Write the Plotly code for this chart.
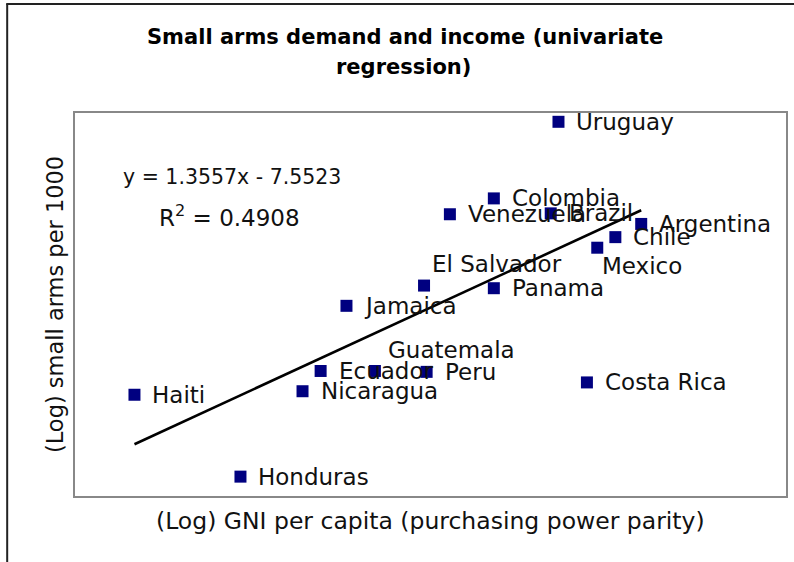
import plotly.graph_objects as go

countries = ["Haiti", "Honduras", "Nicaragua", "Ecuador", "Guatemala", "Peru",
             "Jamaica", "El Salvador", "Venezuela", "Colombia", "Panama",
             "Uruguay", "Brazil", "Costa Rica", "Mexico", "Chile", "Argentina"]
log_gni = [7.48, 7.89, 8.13, 8.20, 8.41, 8.61,
           8.30, 8.60, 8.70, 8.87, 8.87,
           9.12, 9.09, 9.23, 9.27, 9.34, 9.44]
log_arms = [3.15, 2.22, 3.19, 3.42, 3.42, 3.41,
            4.16, 4.39, 5.20, 5.38, 4.36,
            6.25, 5.21, 3.29, 4.82, 4.94, 5.09]
slope = 1.3557
intercept = -7.5523
r_squared = 0.4908

# label offsets (pixels) relative to marker
label_dx = {"Guatemala": 13, "El Salvador": 8, "Mexico": 5}
label_dy = {"Guatemala": 21, "El Salvador": 22, "Mexico": -18}

FONT = "DejaVu Sans"

# plot area in page pixels: x 75..788, y 113..496
L, R, T, B = 75, 788, 113, 496
PW, PH = R - L, B - T


def px(xp):
    return (xp - L) / PW


def py(yp):
    return (B - yp) / PH


fig = go.Figure()

xmin, xmax = min(log_gni), max(log_gni)
fig.add_trace(go.Scatter(
    x=[xmin, xmax], y=[slope * xmin + intercept, slope * xmax + intercept],
    mode="lines", line=dict(color="black", width=2.6), hoverinfo="skip",
    showlegend=False))

fig.add_trace(go.Scatter(
    x=log_gni, y=log_arms, mode="markers", text=countries,
    marker=dict(symbol="square", size=12, color="#000080",
                line=dict(width=0)),
    showlegend=False))

annotations = []
for c, xv, yv in zip(countries, log_gni, log_arms):
    annotations.append(dict(
        x=xv, y=yv, xref="x", yref="y", text=c, showarrow=False,
        xanchor="left", yanchor="middle",
        xshift=label_dx.get(c, 18) - 2, yshift=label_dy.get(c, 0),
        font=dict(family=FONT, size=23, color="#111111")))

annotations += [
    dict(x=px(232), y=py(177), xref="paper", yref="paper",
         text=f"y = {slope}x - {abs(intercept)}", showarrow=False,
         xanchor="center", yanchor="middle",
         font=dict(family=FONT, size=20.5, color="#111111")),
    dict(x=px(230), y=py(216), xref="paper", yref="paper",
         text=f"R<sup>2</sup> = {r_squared}", showarrow=False,
         xanchor="center", yanchor="middle",
         font=dict(family=FONT, size=23, color="#111111")),
    dict(x=px(406), y=py(37), xref="paper", yref="paper",
         text="Small arms demand and income (univariate", showarrow=False,
         xanchor="center", yanchor="middle",
         font=dict(family=FONT, size=21, color="black", weight="bold")),
    dict(x=px(404), y=py(67), xref="paper", yref="paper",
         text="regression)", showarrow=False,
         xanchor="center", yanchor="middle",
         font=dict(family=FONT, size=21, color="black", weight="bold")),
    dict(x=px(432), y=py(521), xref="paper", yref="paper",
         text="(Log) GNI per capita (purchasing power parity)", showarrow=False,
         xanchor="center", yanchor="middle",
         font=dict(family=FONT, size=23.5, color="#111111")),
    dict(x=px(55), y=py(305), xref="paper", yref="paper",
         text="(Log) small arms per 1000", showarrow=False, textangle=-90,
         xanchor="center", yanchor="middle",
         font=dict(family=FONT, size=22.5, color="#111111")),
]

shapes = [
    dict(type="line", xref="paper", yref="paper",
         x0=px(6), x1=px(800), y0=py(4), y1=py(4),
         line=dict(color="#222222", width=2)),
    dict(type="line", xref="paper", yref="paper",
         x0=px(7), x1=px(7), y0=py(4), y1=py(580),
         line=dict(color="#222222", width=2)),
]

fig.update_layout(
    width=794, height=562,
    margin=dict(l=L, r=794 - R, t=T, b=562 - B),
    paper_bgcolor="white", plot_bgcolor="white",
    xaxis=dict(range=[7.25, 10.0], showgrid=False, zeroline=False,
               showticklabels=False, ticks="", showline=True, mirror=True,
               linecolor="#888888", linewidth=2),
    yaxis=dict(range=[2.0, 6.35], showgrid=False, zeroline=False,
               showticklabels=False, ticks="", showline=True, mirror=True,
               linecolor="#888888", linewidth=2),
    annotations=annotations,
    shapes=shapes,
)

fig.write_html("out.html",
               config={"displayModeBar": False},
               post_script="document.body.style.margin='0px';"
                           "document.body.style.overflow='hidden';")
